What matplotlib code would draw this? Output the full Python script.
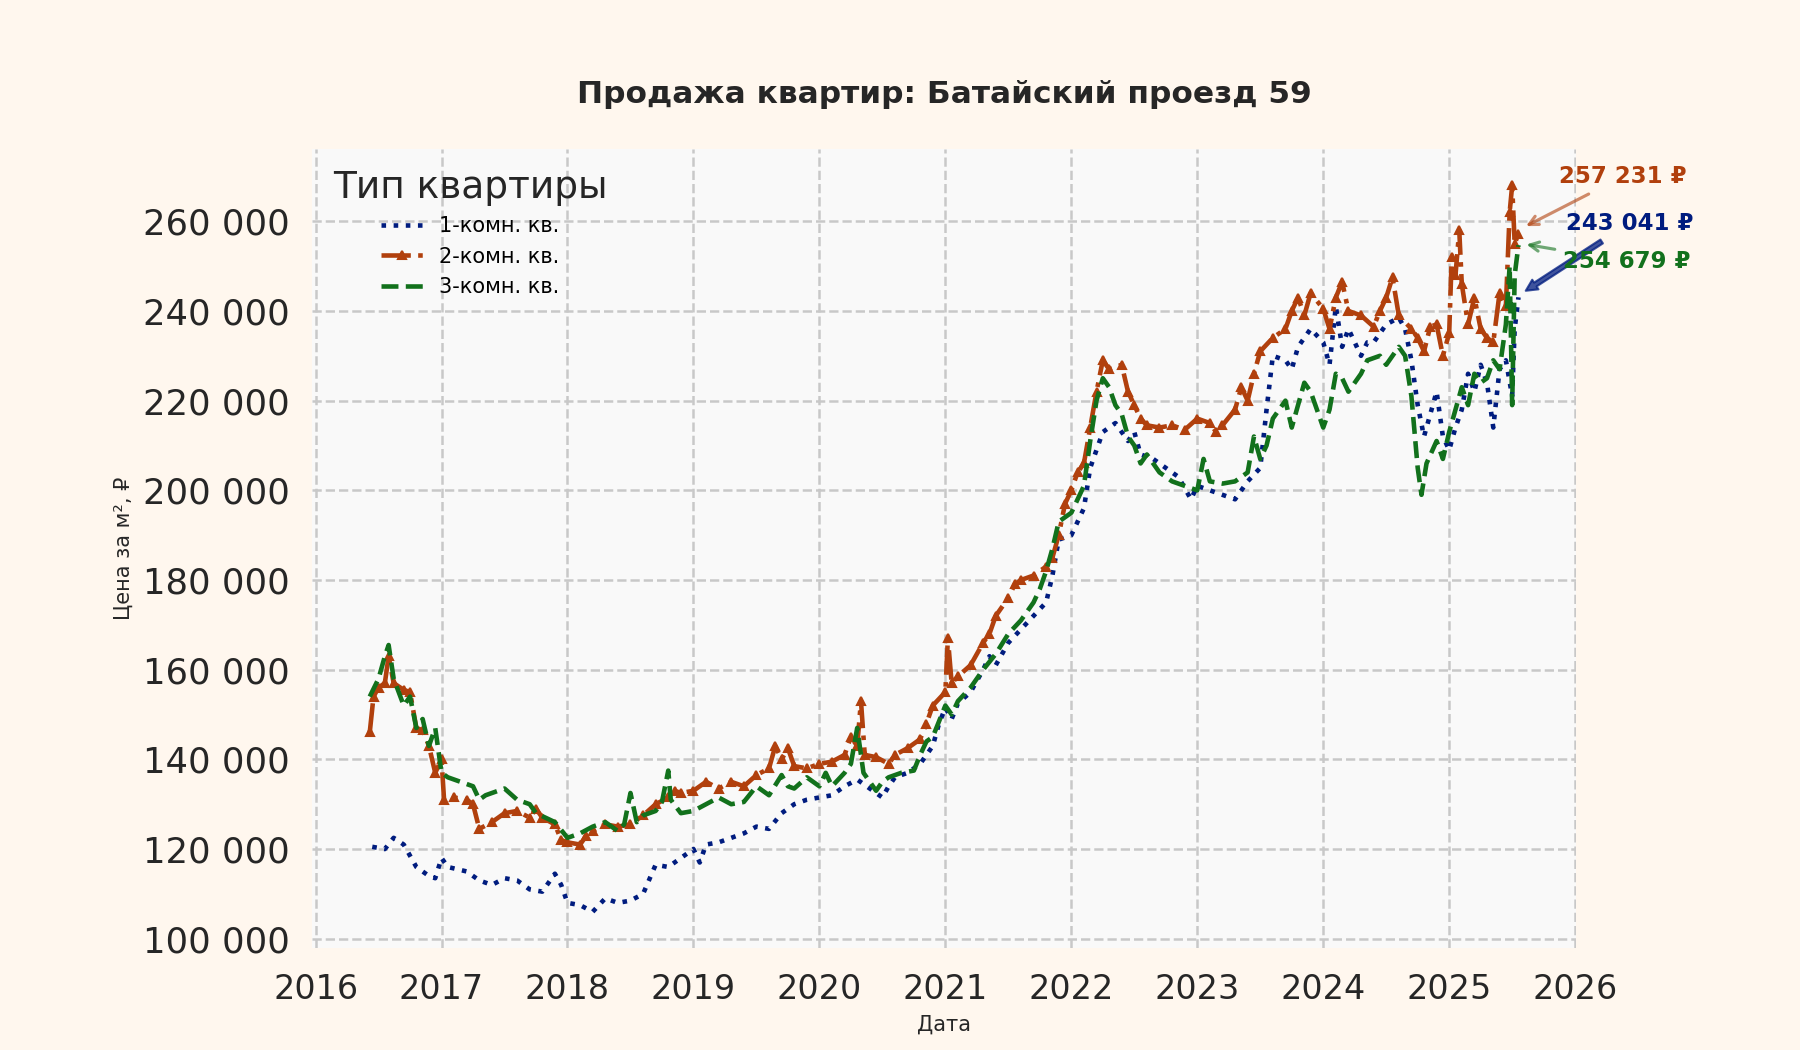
import matplotlib
matplotlib.use("Agg")
import matplotlib.pyplot as plt
from matplotlib.ticker import FuncFormatter, MultipleLocator

# decimal years and prices per m2
x1 = [2016.45, 2016.55, 2016.62, 2016.7, 2016.8, 2016.9, 2016.95, 2017.0, 2017.05, 2017.2,
      2017.3, 2017.4, 2017.5, 2017.6, 2017.7, 2017.8, 2017.9, 2017.95, 2018.0, 2018.1,
      2018.2, 2018.3, 2018.4, 2018.5, 2018.6, 2018.7, 2018.8, 2018.9, 2019.0, 2019.05,
      2019.1, 2019.2, 2019.3, 2019.4, 2019.5, 2019.6, 2019.7, 2019.8, 2019.9, 2020.0,
      2020.1, 2020.2, 2020.3, 2020.4, 2020.5, 2020.55, 2020.6, 2020.7, 2020.8, 2020.9,
      2020.95, 2021.0, 2021.05, 2021.1, 2021.2, 2021.3, 2021.35, 2021.4, 2021.5, 2021.6,
      2021.7, 2021.8, 2021.85, 2021.9, 2022.0, 2022.1, 2022.15, 2022.25, 2022.35, 2022.45,
      2022.5, 2022.55, 2022.65, 2022.75, 2022.85, 2022.95, 2023.0, 2023.1, 2023.2, 2023.3,
      2023.4, 2023.5, 2023.55, 2023.6, 2023.7, 2023.75, 2023.8, 2023.9, 2024.0, 2024.05,
      2024.1, 2024.15, 2024.2, 2024.3, 2024.35, 2024.4, 2024.5, 2024.6, 2024.65, 2024.7,
      2024.75, 2024.8, 2024.85, 2024.9, 2024.95, 2025.0, 2025.05, 2025.1, 2025.15, 2025.2,
      2025.25, 2025.3, 2025.35, 2025.4, 2025.45, 2025.5, 2025.52, 2025.55]
room1 = [120500, 120000, 122500, 121000, 116000, 114000, 113500, 118000, 116000, 115000,
         113000, 112000, 113500, 113000, 111000, 110500, 114500, 112000, 108000, 107500,
         106000, 109000, 108000, 108500, 110000, 116500, 116000, 118000, 120000, 117000,
         121000, 121500, 122500, 123500, 125000, 124500, 128000, 130000, 131000, 131500,
         132000, 134000, 135500, 133500, 131500, 134000, 136000, 137000, 139000, 143000,
         148000, 151500, 149000, 152500, 155000, 160000, 163000, 161000, 166000, 169000,
         172000, 175000, 181000, 189000, 190000, 196000, 205000, 213000, 215000, 211000,
         213000, 208000, 207000, 205000, 203000, 198000, 201000, 200000, 199000, 198000,
         202000, 205000, 218000, 230000, 229000, 227000, 232000, 236000, 233000, 228000,
         241000, 232000, 236000, 230000, 233000, 233000, 237000, 238500, 236000, 229000,
         219000, 212000, 217000, 222000, 212000, 209000, 214000, 218000, 226000, 222000,
         228000, 224000, 214000, 227000, 229000, 221000, 236000, 243041]

x2 = [2016.43, 2016.46, 2016.5, 2016.55, 2016.58, 2016.62, 2016.7, 2016.75, 2016.8, 2016.85,
      2016.9, 2016.95, 2017.0, 2017.02, 2017.1, 2017.2, 2017.25, 2017.3, 2017.4, 2017.5,
      2017.6, 2017.7, 2017.75, 2017.8, 2017.9, 2017.95, 2018.0, 2018.1, 2018.15, 2018.2,
      2018.3, 2018.4, 2018.5, 2018.6, 2018.7, 2018.8, 2018.85, 2018.9, 2019.0, 2019.1,
      2019.2, 2019.3, 2019.4, 2019.5, 2019.6, 2019.65, 2019.7, 2019.75, 2019.8, 2019.9,
      2020.0, 2020.1, 2020.2, 2020.25, 2020.3, 2020.33, 2020.36, 2020.45, 2020.55, 2020.6,
      2020.7, 2020.8, 2020.85, 2020.9, 2021.0, 2021.02, 2021.05, 2021.1, 2021.2, 2021.3,
      2021.35, 2021.4, 2021.5, 2021.55, 2021.6, 2021.7, 2021.8, 2021.85, 2021.9, 2021.95,
      2022.0, 2022.05, 2022.1, 2022.15, 2022.2, 2022.25, 2022.3, 2022.4, 2022.45, 2022.5,
      2022.55, 2022.6, 2022.7, 2022.8, 2022.9, 2023.0, 2023.1, 2023.15, 2023.2, 2023.3,
      2023.35, 2023.4, 2023.45, 2023.5, 2023.6, 2023.7, 2023.75, 2023.8, 2023.85, 2023.9,
      2024.0, 2024.05, 2024.1, 2024.15, 2024.2, 2024.3, 2024.4, 2024.45, 2024.5, 2024.55,
      2024.6, 2024.7, 2024.75, 2024.8, 2024.85, 2024.9, 2024.95, 2025.0, 2025.02, 2025.05,
      2025.08, 2025.1, 2025.15, 2025.2, 2025.25, 2025.3, 2025.35, 2025.4, 2025.45, 2025.48,
      2025.5, 2025.52, 2025.55]
room2 = [146000, 154000, 156000, 157000, 163000, 157000, 155500, 155000, 147000, 146500,
         143000, 137000, 140000, 131000, 131500, 131000, 130000, 124500, 126000, 128000,
         128500, 127000, 129000, 127000, 125500, 122000, 121500, 121000, 123000, 124000,
         125500, 125000, 125500, 127500, 130000, 131500, 133000, 132500, 133000, 135000,
         133500, 135000, 134000, 136500, 138000, 143000, 140000, 142500, 138500, 138000,
         139000, 139500, 141000, 145000, 143000, 153000, 141000, 140500, 139000, 141000,
         142500, 144500, 148000, 152000, 155000, 167000, 157000, 158500, 161000, 166000,
         168000, 172000, 176000, 179000, 180000, 181000, 183000, 185000, 190000, 197000,
         200000, 204000, 206000, 214000, 222000, 229000, 227000, 228000, 222000, 219000,
         216000, 214500, 214000, 214500, 213500, 216000, 215000, 213000, 214500, 218000,
         223000, 220000, 226000, 231000, 234000, 236000, 240000, 243000, 239000, 244000,
         240500, 236000, 243000, 246500, 240000, 239000, 236500, 240000, 243000, 247500,
         239000, 236000, 234000, 231000, 236500, 237000, 230000, 235000, 252000, 248000,
         258000, 246000, 237000, 243000, 236000, 234000, 233000, 244000, 241000, 262000,
         268000, 255000, 257231]

x3 = [2016.43, 2016.5, 2016.55, 2016.58, 2016.62, 2016.7, 2016.75, 2016.8, 2016.85, 2016.9,
      2016.95, 2017.0, 2017.05, 2017.15, 2017.25, 2017.3, 2017.35, 2017.5, 2017.6, 2017.7,
      2017.75, 2017.9, 2018.0, 2018.1, 2018.2, 2018.3, 2018.4, 2018.45, 2018.5, 2018.55,
      2018.6, 2018.7, 2018.75, 2018.8, 2018.82, 2018.9, 2019.0, 2019.1, 2019.2, 2019.3,
      2019.4, 2019.5, 2019.6, 2019.7, 2019.75, 2019.8, 2019.9, 2020.0, 2020.05, 2020.1,
      2020.2, 2020.25, 2020.3, 2020.35, 2020.45, 2020.5, 2020.55, 2020.65, 2020.75, 2020.8,
      2020.85, 2020.9, 2021.0, 2021.05, 2021.1, 2021.2, 2021.3, 2021.4, 2021.5, 2021.6,
      2021.7, 2021.75, 2021.8, 2021.85, 2021.9, 2022.0, 2022.05, 2022.1, 2022.15, 2022.2,
      2022.25, 2022.3, 2022.35, 2022.4, 2022.45, 2022.5, 2022.55, 2022.6, 2022.7, 2022.8,
      2022.9, 2023.0, 2023.05, 2023.1, 2023.2, 2023.3, 2023.4, 2023.45, 2023.5, 2023.55,
      2023.6, 2023.7, 2023.75, 2023.8, 2023.85, 2023.9, 2024.0, 2024.05, 2024.1, 2024.15,
      2024.2, 2024.3, 2024.35, 2024.45, 2024.5, 2024.6, 2024.65, 2024.7, 2024.75, 2024.78,
      2024.82, 2024.9, 2024.95, 2025.0, 2025.05, 2025.1, 2025.15, 2025.2, 2025.25, 2025.3,
      2025.35, 2025.4, 2025.45, 2025.48, 2025.5, 2025.52, 2025.55]
room3 = [154000, 158000, 163000, 165500, 158000, 152000, 154000, 147000, 149000, 143000,
         147000, 137000, 136000, 135000, 134000, 131000, 132000, 133500, 131000, 130000,
         128000, 126000, 122500, 123500, 125000, 126000, 124000, 125500, 132500, 126000,
         127500, 128500, 130500, 137500, 131000, 128000, 128500, 130000, 131500, 130000,
         130500, 134000, 132000, 136500, 134000, 133500, 136000, 134000, 137000, 134000,
         137000, 139000, 147000, 137000, 133000, 135000, 136000, 137000, 137500, 141000,
         144000, 145000, 152000, 150000, 153000, 156000, 160000, 163500, 168000, 171000,
         175000, 178000, 182000, 187000, 193000, 195000, 198000, 201000, 211000, 220000,
         225000, 223000, 219000, 217000, 212000, 210000, 206000, 208000, 204000, 202000,
         201000, 200000, 207000, 202000, 201500, 202000, 204000, 212000, 207000, 210000,
         216000, 220000, 214000, 219000, 224000, 222000, 214000, 218000, 226000, 225000,
         222000, 226000, 229000, 230000, 228000, 232000, 230000, 221000, 205000, 199000,
         206000, 211000, 207000, 213000, 218000, 223000, 219000, 226000, 224000, 225000,
         229000, 227000, 237000, 250000, 219000, 248000, 254679]

labels = ["1-комн. кв.", "2-комн. кв.", "3-комн. кв."]
colors = ["#001c7f", "#b1400d", "#12711c"]
last_labels = ["243 041 ₽", "257 231 ₽", "254 679 ₽"]

plt.rcParams['font.family'] = ['DejaVu Sans']
fig = plt.figure(figsize=(12, 7), dpi=150, facecolor="#fff7ee")
ax = fig.add_axes([0.1735, 0.097, 0.702, 0.761])
ax.set_facecolor("#f9f9f9")

ax.plot(x1, room1, color=colors[0], linestyle=":", linewidth=2.2, label=labels[0])
ax.plot(x2, room2, color=colors[1], linestyle="-.", linewidth=2.2, marker="^",
        markersize=3.5, label=labels[1])
ax.plot(x3, room3, color=colors[2], linestyle="--", linewidth=2.2, label=labels[2])

for s in ax.spines.values():
    s.set_visible(False)
ax.grid(True, linestyle="--", color="#c8c8c8", linewidth=1.2)
ax.set_axisbelow(True)
ax.tick_params(length=0, colors="#262626")
ax.tick_params(axis="x", labelsize=16, pad=12)
ax.tick_params(axis="y", labelsize=17, pad=11)

ax.xaxis.set_major_locator(MultipleLocator(1))
ax.xaxis.set_major_formatter(FuncFormatter(lambda v, p: f"{int(round(v))}"))
ax.yaxis.set_major_locator(MultipleLocator(20000))
ax.yaxis.set_major_formatter(FuncFormatter(lambda v, p: f"{int(v):,}".replace(",", " ")))

ax.set_xlabel("Дата", fontsize=10, color="#262626")
ax.set_ylabel("Цена за м², ₽", fontsize=10, color="#262626")
ax.set_title("Продажа квартир: Батайский проезд 59", fontsize=15, fontweight="bold",
             color="#262626", pad=22)

leg = ax.legend(title="Тип квартиры", loc="upper left", frameon=False, fontsize=10,
                title_fontsize=18, borderaxespad=0.6, labelspacing=0.5)
leg.get_title().set_color("#262626")

# labels for the last values
ax.annotate(last_labels[1], xy=(x2[-1] + 0.03, 258500), xytext=(2026.38, 270000),
            color=colors[1], fontsize=11, fontweight="bold", ha="center", va="center",
            annotation_clip=False,
            arrowprops=dict(arrowstyle="->", color=colors[1], alpha=0.6, lw=1.5))
ax.annotate(last_labels[0], xy=(x1[-1] + 0.03, 244000), xytext=(2026.43, 259500),
            color=colors[0], fontsize=11, fontweight="bold", ha="center", va="center",
            annotation_clip=False,
            arrowprops=dict(arrowstyle="simple", color=colors[0], alpha=0.75, lw=1))
ax.annotate(last_labels[2], xy=(x3[-1] + 0.03, 255000), xytext=(2026.41, 251000),
            color=colors[2], fontsize=11, fontweight="bold", ha="center", va="center",
            annotation_clip=False,
            arrowprops=dict(arrowstyle="->", color=colors[2], alpha=0.6, lw=1.5))

fig.savefig("out.png", dpi=150, facecolor=fig.get_facecolor())
